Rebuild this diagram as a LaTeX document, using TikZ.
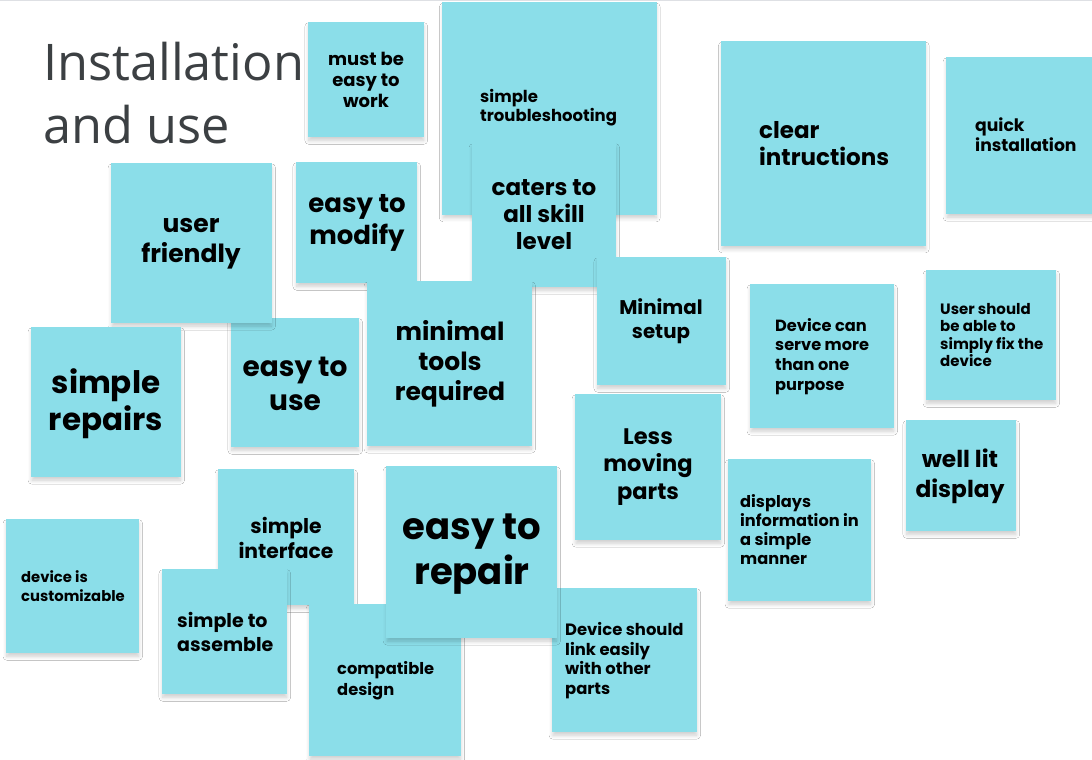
\documentclass[tikz,border=0pt]{standalone}
\usepackage{fontspec}
\setmainfont{Poppins}
\newfontfamily\titlefont{Open Sans}
\usetikzlibrary{shadows.blur}

\definecolor{notebg}{RGB}{139,222,233}
\definecolor{titlegray}{RGB}{60,64,67}
\definecolor{edgegray}{RGB}{222,224,228}

% a sticky note spanning (x1,y1)-(x2,y2), in pixel-like units
\newcommand\stickynote[5]{%
  \node[sticky, minimum width={(#4-#2)*1pt}, minimum height={(#5-#3)*1pt}]
    (#1) at ({(#2+#4)/2},{(#3+#5)/2}) {};}
\newcommand\fs[2]{\fontsize{#1}{#2}\selectfont\bfseries}

\tikzset{
  sticky/.style={fill=notebg, draw=none, inner sep=0pt, outer sep=0pt,
    blur shadow={shadow xshift=0.3pt, shadow yshift=-4pt, shadow scale=0.99,
      shadow blur radius=4pt, shadow blur steps=8, shadow opacity=20}},
  notetext/.style={inner sep=0pt, text=black},
  ctext/.style={notetext, align=center},
  ltext/.style={notetext, align=left, anchor=west},
}

\begin{document}
\begin{tikzpicture}[x=1pt, y=-1pt]
\useasboundingbox (0,0) rectangle (1092,760);
\fill[white] (0,0) rectangle (1092,760);
\draw[edgegray, line width=1.5pt] (0,0.75) -- (1092,0.75);

% title
\node[inner sep=0pt, anchor=north west, align=left, text=titlegray,
  font=\titlefont\fontsize{50.5}{63}\selectfont] (title) at (43,42)
  {Installation\\and use};

% notes, back to front
\stickynote{must}{308}{22}{424}{137}
\node[ctext, font=\fs{18}{21}] (must-t) at (366,80) {must be\\easy to\\work};

\stickynote{trouble}{442}{2}{657}{215}
\node[ltext, font=\fs{16.5}{19}] (trouble-t) at (480,107.5) {simple\\troubleshooting};

\stickynote{clear}{721}{41}{926}{246}
\node[ltext, font=\fs{23}{27}] (clear-t) at (759,143.5) {clear\\intructions};

\stickynote{quick}{946}{57}{1096}{214}
\node[ltext, font=\fs{17.2}{20}] (quick-t) at (975,135) {quick\\installation};

\stickynote{modify}{296}{162}{417}{283}
\node[ctext, font=\fs{26}{32}] (modify-t) at (357,223) {easy to\\modify};

\stickynote{use}{231}{318}{359}{447}
\node[ctext, font=\fs{28}{34}] (use-t) at (295,384) {easy to\\use};

\stickynote{friendly}{111}{163}{272}{323}
\node[ctext, font=\fs{25}{30}] (friendly-t) at (191,244) {user\\friendly};

\stickynote{repairs}{31}{327}{181}{477}
\node[ctext, font=\fs{31}{37}] (repairs-t) at (106,404) {simple\\repairs};

\stickynote{caters}{472}{143}{616}{287}
\node[ctext, font=\fs{23}{27}] (caters-t) at (544,215) {caters to\\all skill\\level};

\stickynote{tools}{367}{281}{532}{446}
\node[ctext, font=\fs{25}{30}] (tools-t) at (450,364) {minimal\\tools\\required};

\stickynote{setup}{597}{257}{726}{385}
\node[ctext, font=\fs{19.8}{24}] (setup-t) at (661,321) {Minimal\\setup};

\stickynote{serve}{750}{284}{894}{428}
\node[ltext, font=\fs{16.2}{19.7}] (serve-t) at (775,356.5) {Device can\\serve more\\than one\\purpose};

\stickynote{fix}{926}{270}{1056}{400}
\node[ltext, font=\fs{15}{17.3}] (fix-t) at (940,335) {User should\\be able to\\simply fix the\\device};

\stickynote{moving}{575}{394}{721}{540}
\node[ctext, font=\fs{22.5}{27.5}] (moving-t) at (648,467) {Less\\moving\\parts};

\stickynote{lit}{906}{420}{1016}{531}
\node[ctext, font=\fs{23.3}{30}] (lit-t) at (960,476) {well lit\\display};

\stickynote{info}{728}{459}{871}{601}
\node[ltext, font=\fs{16.2}{19}] (info-t) at (740,529.5) {displays\\information in\\a simple\\manner};

\stickynote{custom}{6}{519}{139}{653}
\node[ltext, font=\fs{14.8}{19}] (custom-t) at (21,586.5) {device is\\customizable};

\stickynote{interface}{218}{469}{354}{605}
\node[ctext, font=\fs{20.3}{25}] (interface-t) at (286,537.5) {simple\\interface};

\stickynote{assemble}{162}{569}{287}{694}
\node[ltext, font=\fs{19}{24}] (assemble-t) at (177,632) {simple to\\assemble};

\stickynote{compat}{309}{604}{461}{756}
\node[ltext, font=\fs{16.3}{21}] (compat-t) at (337,680.5) {compatible\\design};

\stickynote{link}{552}{588}{697}{732}
\node[ltext, font=\fs{16.4}{19.7}] (link-t) at (565,660.5) {Device should\\link easily\\with other\\parts};

\stickynote{repair}{386}{466}{557}{638}
\node[ctext, font=\fs{37}{45}] (repair-t) at (472,554.5) {easy to\\repair};
\end{tikzpicture}
\end{document}
